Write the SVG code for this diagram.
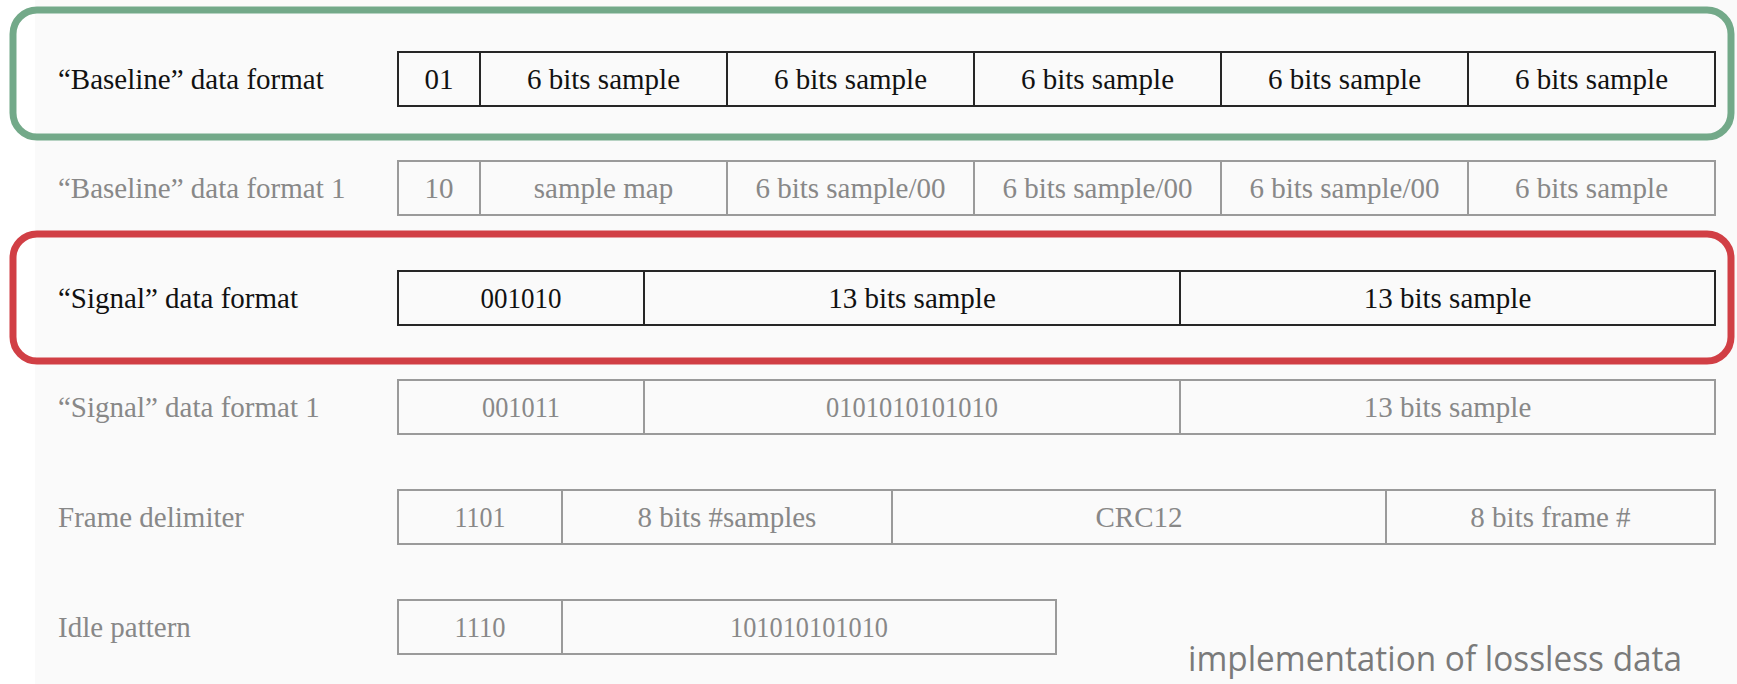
<svg xmlns="http://www.w3.org/2000/svg" width="1737" height="684" viewBox="0 0 1737 684">
  <style>
    .lbl { font-family: "Liberation Serif", "Times New Roman", serif; font-size: 29px; }
    .cell { font-family: "Liberation Serif", "Times New Roman", serif; font-size: 29px; text-anchor: middle; }
    .dark text { fill: #111111; }
    .dark rect, .dark line { stroke: #262626; }
    .light text { fill: #888888; }
    .light rect, .light line { stroke: #9a9a9a; }
    rect.frame { fill: none; stroke-width: 2; }
    line { stroke-width: 2; }
    .hl { fill: none; stroke-width: 7; }
    .caption { font-family: "Open Sans", "Noto Sans", sans-serif; font-size: 34px; fill: #7a7a7a; }
  </style>

  <!-- page background -->
  <rect x="0" y="0" width="1737" height="684" fill="#ffffff"/>
  <rect x="35" y="0" width="1702" height="684" fill="#fafafa"/>

  <!-- "Baseline" data format -->
  <g id="row-baseline" class="dark">
    <text class="lbl" x="58" y="89">“Baseline” data format</text>
    <rect class="frame" x="398" y="52" width="1317" height="54"/>
    <line x1="480" y1="52" x2="480" y2="106"/>
    <line x1="727" y1="52" x2="727" y2="106"/>
    <line x1="974" y1="52" x2="974" y2="106"/>
    <line x1="1221" y1="52" x2="1221" y2="106"/>
    <line x1="1468" y1="52" x2="1468" y2="106"/>
    <text class="cell" x="439" y="89">01</text>
    <text class="cell" x="603.5" y="89">6 bits sample</text>
    <text class="cell" x="850.5" y="89">6 bits sample</text>
    <text class="cell" x="1097.5" y="89">6 bits sample</text>
    <text class="cell" x="1344.5" y="89">6 bits sample</text>
    <text class="cell" x="1591.5" y="89">6 bits sample</text>
  </g>

  <!-- "Baseline" data format 1 -->
  <g id="row-baseline-1" class="light">
    <text class="lbl" x="58" y="198">“Baseline” data format 1</text>
    <rect class="frame" x="398" y="161" width="1317" height="54"/>
    <line x1="480" y1="161" x2="480" y2="215"/>
    <line x1="727" y1="161" x2="727" y2="215"/>
    <line x1="974" y1="161" x2="974" y2="215"/>
    <line x1="1221" y1="161" x2="1221" y2="215"/>
    <line x1="1468" y1="161" x2="1468" y2="215"/>
    <text class="cell" x="439" y="198">10</text>
    <text class="cell" x="603.5" y="198">sample map</text>
    <text class="cell" x="850.5" y="198">6 bits sample/00</text>
    <text class="cell" x="1097.5" y="198">6 bits sample/00</text>
    <text class="cell" x="1344.5" y="198">6 bits sample/00</text>
    <text class="cell" x="1591.5" y="198">6 bits sample</text>
  </g>

  <!-- "Signal" data format -->
  <g id="row-signal" class="dark">
    <text class="lbl" x="58" y="308">“Signal” data format</text>
    <rect class="frame" x="398" y="271" width="1317" height="54"/>
    <line x1="644" y1="271" x2="644" y2="325"/>
    <line x1="1180" y1="271" x2="1180" y2="325"/>
    <text class="cell" x="521" y="308" textLength="81" lengthAdjust="spacingAndGlyphs">001010</text>
    <text class="cell" x="912" y="308">13 bits sample</text>
    <text class="cell" x="1447.5" y="308">13 bits sample</text>
  </g>

  <!-- "Signal" data format 1 -->
  <g id="row-signal-1" class="light">
    <text class="lbl" x="58" y="417">“Signal” data format 1</text>
    <rect class="frame" x="398" y="380" width="1317" height="54"/>
    <line x1="644" y1="380" x2="644" y2="434"/>
    <line x1="1180" y1="380" x2="1180" y2="434"/>
    <text class="cell" x="521" y="417" textLength="78" lengthAdjust="spacingAndGlyphs">001011</text>
    <text class="cell" x="912" y="417" textLength="172" lengthAdjust="spacingAndGlyphs">0101010101010</text>
    <text class="cell" x="1447.5" y="417">13 bits sample</text>
  </g>

  <!-- Frame delimiter -->
  <g id="row-frame-delimiter" class="light">
    <text class="lbl" x="58" y="527">Frame delimiter</text>
    <rect class="frame" x="398" y="490" width="1317" height="54"/>
    <line x1="562" y1="490" x2="562" y2="544"/>
    <line x1="892" y1="490" x2="892" y2="544"/>
    <line x1="1386" y1="490" x2="1386" y2="544"/>
    <text class="cell" x="480" y="527" textLength="51" lengthAdjust="spacingAndGlyphs">1101</text>
    <text class="cell" x="727" y="527">8 bits #samples</text>
    <text class="cell" x="1139" y="527">CRC12</text>
    <text class="cell" x="1550.5" y="527">8 bits frame #</text>
  </g>

  <!-- Idle pattern -->
  <g id="row-idle" class="light">
    <text class="lbl" x="58" y="637">Idle pattern</text>
    <rect class="frame" x="398" y="600" width="658" height="54"/>
    <line x1="562" y1="600" x2="562" y2="654"/>
    <text class="cell" x="480" y="637" textLength="51" lengthAdjust="spacingAndGlyphs">1110</text>
    <text class="cell" x="809" y="637" textLength="158" lengthAdjust="spacingAndGlyphs">101010101010</text>
  </g>

  <!-- highlight outlines -->
  <g id="highlights">
    <rect class="hl" x="13" y="10" width="1718" height="127" rx="24" stroke="#73a989"/>
    <rect class="hl" x="13" y="234" width="1718" height="127" rx="24" stroke="#d13f45"/>
  </g>

  <text id="caption" class="caption" x="1188" y="671" textLength="494" lengthAdjust="spacingAndGlyphs">implementation of lossless data</text>
</svg>
